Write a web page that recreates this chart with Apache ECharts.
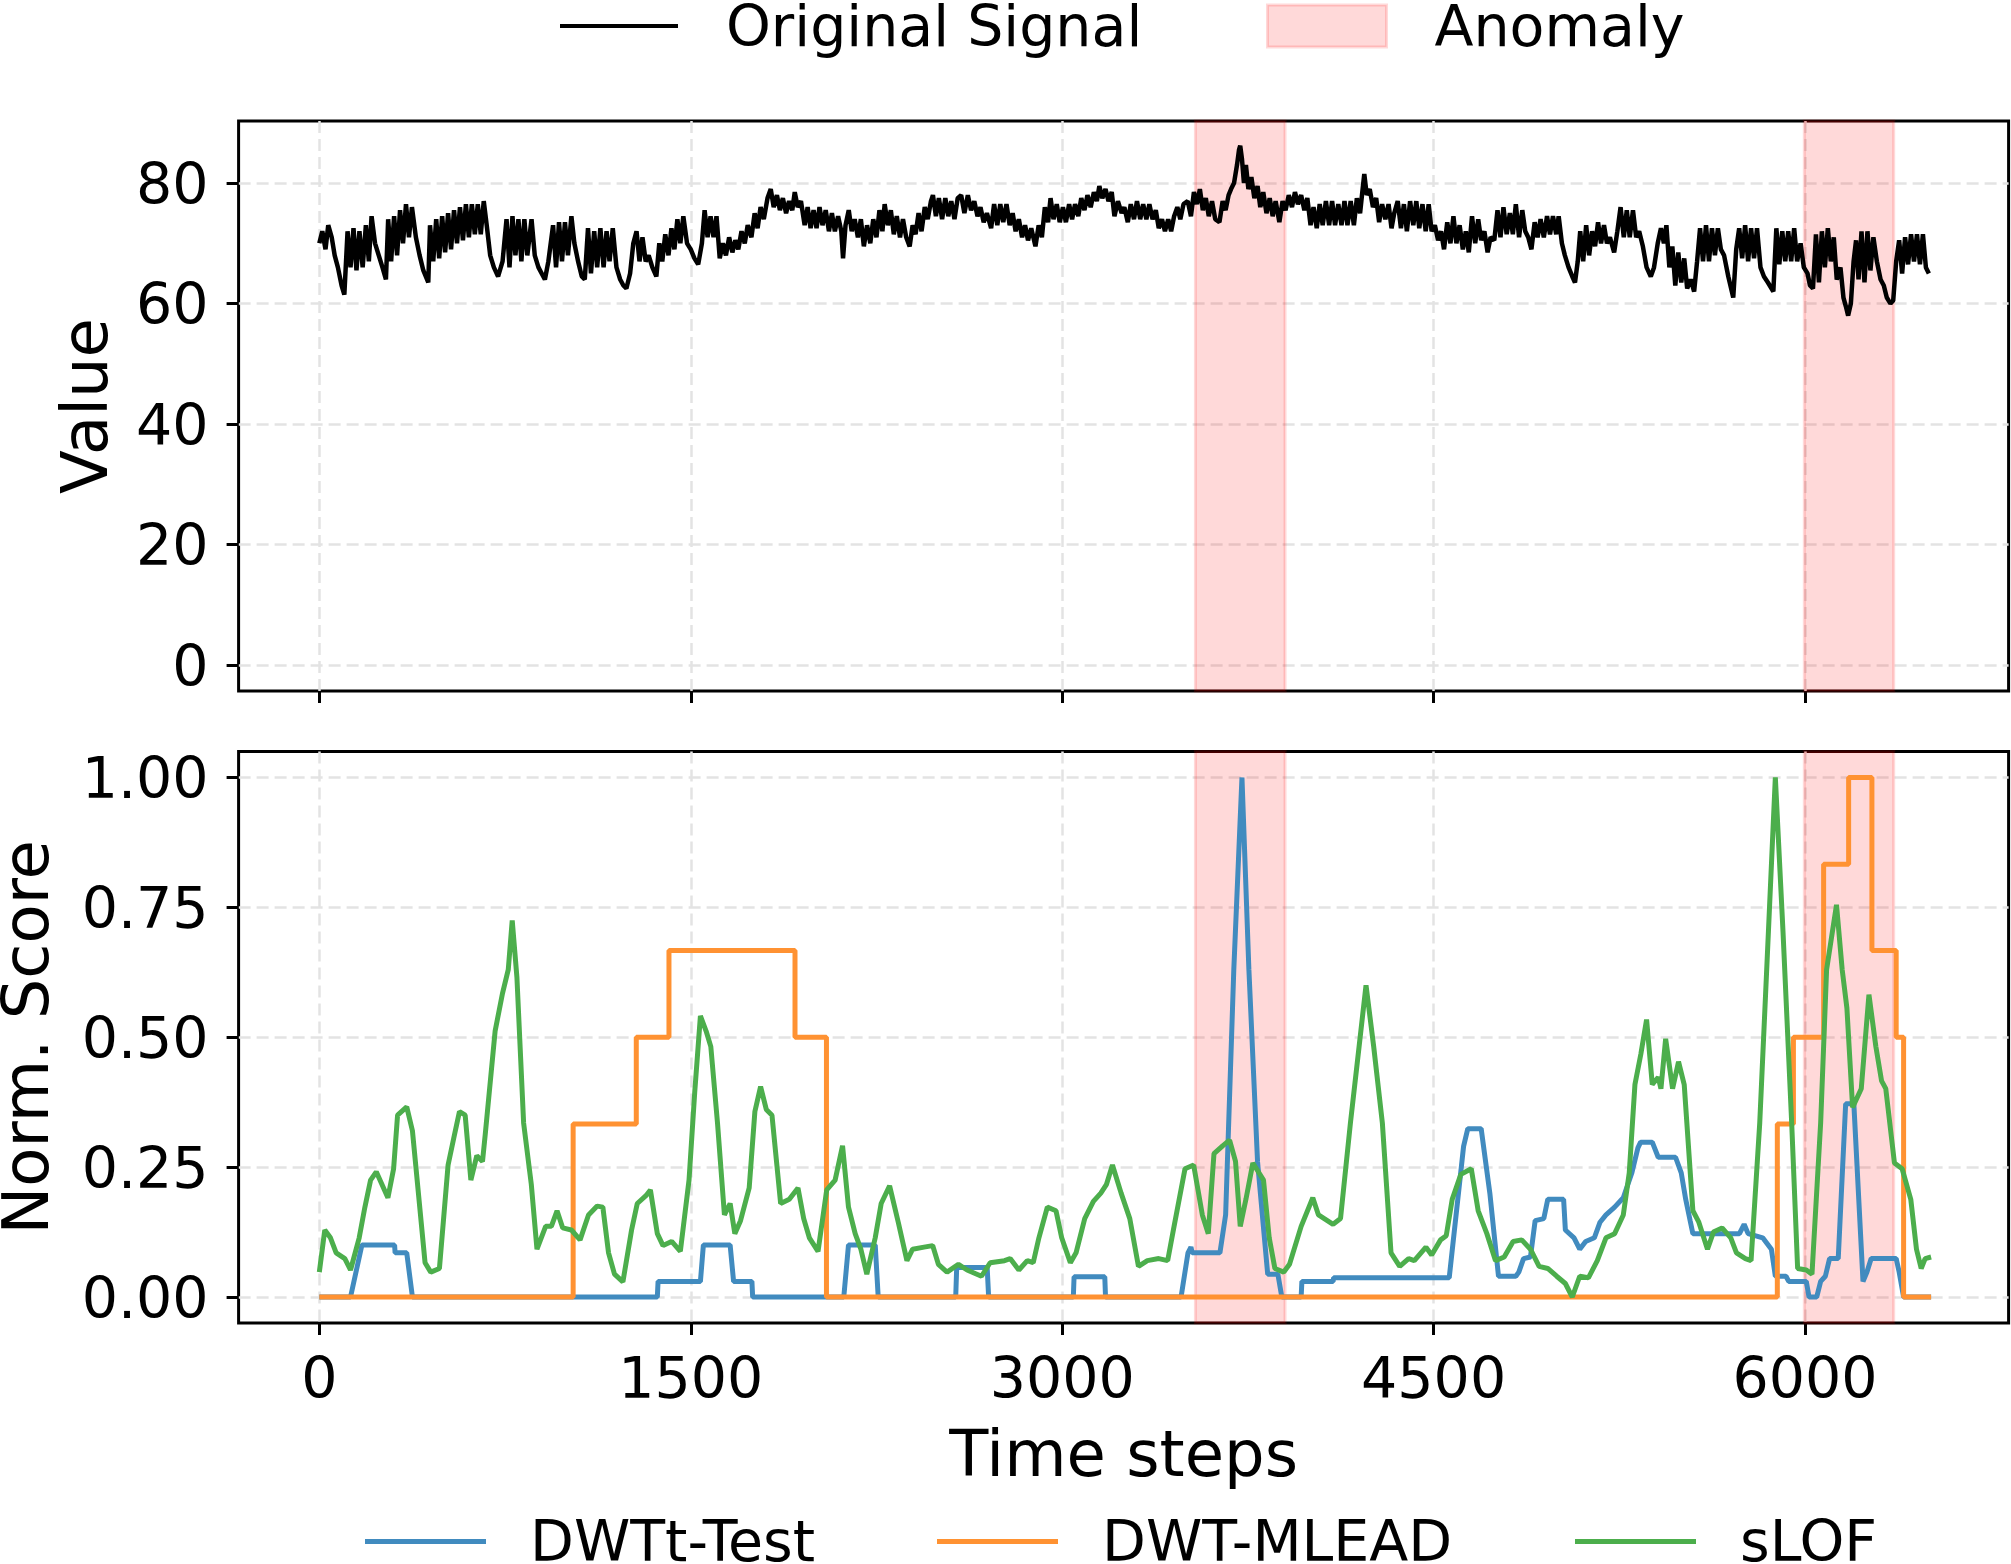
<!DOCTYPE html>
<html>
<head>
<meta charset="utf-8">
<script src="https://cdn.jsdelivr.net/npm/echarts@6/dist/echarts.min.js"></script>
<style>
html, body { margin: 0; padding: 0; background: #fff; }
#chart { width: 2011px; height: 1564px; }
</style>
</head>
<body>
<div id="chart"></div>
<script>
// tick values
const timeTicks = [0, 1500, 3000, 4500, 6000];
const valueTicks = [0, 20, 40, 60, 80];
const scoreTicks = [0, 0.25, 0.5, 0.75, 1];

// anomaly windows [start, end]
const anomalyRanges = [[3538, 3900], [5997, 6358]];

// original signal, [time, value]
const signal = [
  [0,70],[12,72],[25,69],[36,73],[50,71],[62,68],[75,66],[90,63],[101,61.5],[114,72],[126,66],[138,72.5],[150,65.5],[162,72],[175,66],[188,73],[200,67],[211,74.5],[225,70],[240,68],[255,66],[269,64],[278,74],[290,67],[302,74.5],[314,68],[326,75.5],[338,70],[350,76.5],[362,71],[374,76],[390,71],[405,68],[420,65.5],[440,63.5],[447,73],[460,67],[472,74],[484,67.5],[496,74.5],[508,68.5],[520,75],[532,69],[544,75.5],[556,70],[568,76],[580,70.5],[592,76.5],[604,71],[616,76.5],[628,71.5],[640,76.5],[652,71.5],[664,77],[676,73],[690,68],[705,66],[722,64.5],[740,67],[756,74],[768,66],[780,74.5],[792,68],[804,74],[816,67],[828,74],[840,68],[857,74],[870,68],[885,66],[898,65],[911,64],[925,67],[944,73],[956,66],[968,73.5],[980,67],[992,73.5],[1004,68],[1018,74.5],[1030,70],[1045,67],[1060,64.5],[1072,64],
  [1085,72.5],[1097,65],[1110,72],[1122,66],[1135,72.5],[1148,66],[1160,72],[1172,67],[1185,72.5],[1200,66],[1215,64],[1228,63],[1240,62.5],[1255,65],[1268,70],[1281,72],[1293,67],[1305,71],[1318,67],[1330,68],[1345,66],[1361,64.5],[1373,70],[1385,67],[1397,71.5],[1410,68],[1422,72.5],[1434,69],[1446,74],[1458,70],[1470,74.5],[1485,70],[1500,69],[1515,67.5],[1530,66.5],[1545,70],[1556,75.5],[1568,71],[1580,74.5],[1592,71],[1604,74.5],[1617,67.5],[1630,70],[1642,68],[1655,71],[1668,68.5],[1680,70.5],[1692,69],[1705,72],[1718,70],[1730,73],[1745,71],[1758,75],[1770,72.5],[1782,76],[1795,74],[1810,77.5],[1823,79],[1835,76],[1848,78],[1860,75.5],[1872,77.5],[1885,75],[1897,77],[1910,75.5],[1920,78.5],[1932,76],[1945,77],[1960,73],[1972,76],[1984,72.5],[1996,75.5],[2008,72.5],[2020,76],[2032,73],[2045,75.5],[2058,72],[2070,75],[2082,72],[2095,74.5],[2108,72],[2115,67.5],[2125,73],[2138,75.5],[2150,72],[2162,74],
  [2175,71],[2187,74],[2199,69.5],[2212,73],[2225,70],[2237,74],[2250,71],[2262,75.5],[2274,72],[2283,76.5],[2296,73],[2308,75.5],[2320,71.5],[2332,74.5],[2345,71],[2357,74],[2370,71],[2384,69.5],[2396,73],[2408,71.5],[2420,75],[2432,72],[2445,76],[2457,74],[2470,77],[2478,78],[2490,74.5],[2502,77.5],[2515,74],[2528,77.5],[2540,74.5],[2552,77],[2565,74],[2578,77.5],[2592,78],[2605,75],[2619,78],[2632,75.5],[2645,77],[2658,74.5],[2670,76],[2683,73.5],[2696,75],[2713,72.5],[2725,76.5],[2738,73],[2750,76.5],[2762,73.5],[2775,76.5],[2788,73],[2800,75],[2812,72],[2825,74],[2838,71],[2850,73],[2862,70.5],[2875,72.5],[2892,69.5],[2905,73],[2918,71],[2930,76],[2943,73.5],[2953,77.5],[2965,74],[2978,76.5],[2990,73.5],[3003,76],[3015,73.5],[3028,76.5],[3040,74],[3052,76.5],[3065,74.5],[3077,77.5],[3090,75.5],[3102,78],[3115,76],[3128,78.5],[3140,77],[3150,79.5],[3162,77.5],[3175,79],[3187,77],[3200,78.5],[3211,74.5],[3225,77],[3240,75],[3251,76],
  [3265,73.5],[3277,76.5],[3290,74],[3302,77],[3315,74],[3327,76.5],[3340,74],[3352,76.5],[3365,74],[3378,75.5],[3390,72.5],[3403,74],[3415,72],[3428,74],[3440,72],[3452,74.5],[3465,76],[3477,74],[3490,76.5],[3507,77],[3520,74.5],[3532,78.5],[3544,76.5],[3556,79],[3568,75.5],[3580,77.5],[3592,74.5],[3605,77],[3618,74],[3635,73.5],[3648,77],[3660,75.5],[3672,78],[3682,79],[3694,80],[3706,83],[3714,85.5],[3719,86.2],[3726,84],[3734,80],[3742,83],[3752,79],[3764,81],[3776,77.5],[3789,79.5],[3800,76],[3812,78.5],[3825,75],[3838,77.5],[3850,74.5],[3862,77],[3877,73.5],[3890,77],[3902,75.5],[3915,78],[3928,76],[3940,78.5],[3952,76.5],[3965,78],[3978,75.5],[3990,77.5],[4003,73],[4015,76],[4028,72.5],[4040,76.5],[4052,73],[4065,77],[4078,73],[4090,77],[4102,73],[4115,76.5],[4128,73],[4140,77],[4152,73],[4165,77],[4178,73],[4190,77.5],[4203,75],[4212,78.5],[4220,81.5],[4230,78],[4242,79],[4255,76],[4268,77.5],[4280,73.5],[4292,76.5],[4305,74],[4318,76.5],[4330,72.5],[4341,75],
  [4355,77],[4368,72.5],[4380,76.5],[4392,72],[4405,77],[4418,73],[4430,77],[4442,72.5],[4455,76.5],[4468,72],[4480,76.5],[4492,72],[4505,73],[4518,70.5],[4530,72],[4542,69],[4555,73.5],[4568,70],[4580,74.5],[4592,70],[4605,73],[4618,69],[4630,72],[4642,68.5],[4655,74.5],[4668,70],[4680,74],[4692,70.5],[4705,72],[4718,68.5],[4730,71],[4745,70.5],[4758,75.5],[4770,71],[4782,76],[4795,71.5],[4808,75],[4820,71.5],[4832,76.5],[4845,71],[4858,75.5],[4870,72],[4882,71],[4895,69],[4908,73.5],[4920,71],[4932,74],[4945,71],[4958,74.5],[4970,71.5],[4982,74.5],[4995,71.5],[5005,74.5],[5018,70],[5030,68],[5045,66],[5060,64.5],[5071,63.5],[5082,67],[5092,72],[5104,67],[5116,73],[5128,68],[5140,72],[5152,69.5],[5164,73.5],[5176,70],[5188,73],[5200,70],[5212,71],[5229,68.5],[5242,72],[5255,76],[5268,71],[5280,75.5],[5292,71],[5305,75.5],[5318,71],[5330,72],[5345,69.5],[5360,66],[5377,64.5],[5390,66],[5405,70],[5418,72.5],[5430,70],
  [5440,73],[5452,66],[5464,69.5],[5476,63],[5488,68.5],[5500,63.5],[5512,67.5],[5524,62.5],[5538,64],[5552,62],[5564,67],[5576,72.5],[5588,67],[5600,73],[5612,67],[5624,72.5],[5636,68],[5648,72.5],[5660,69],[5673,68],[5690,64.5],[5710,61],[5722,69],[5734,72.5],[5746,67.5],[5758,73],[5770,67],[5782,72.5],[5794,67.5],[5806,72.5],[5820,66],[5834,64.5],[5850,63.5],[5872,62],[5884,72.5],[5896,66.5],[5908,72],[5920,67],[5932,72],[5944,67],[5956,72.5],[5968,67],[5982,70],[5995,66],[6010,65],[6020,63],[6032,62.5],[6044,71.5],[6056,63.5],[6068,72],[6080,66],[6092,72.5],[6104,67],[6116,71],[6128,64],[6143,66],[6155,61],[6165,59.5],[6174,58],[6185,60],[6196,67],[6206,70.5],[6216,64],[6228,72],[6240,63.5],[6252,72],[6264,65.5],[6276,71],[6290,67],[6305,64],[6318,63],[6330,61],[6345,60],[6356,60.5],[6368,67],[6380,70.5],[6392,65],[6404,71],[6416,66.5],[6428,71.5],[6440,67],[6452,71.5],[6464,66.5],[6476,71.5],[6488,66],[6500,65]
];

// normalized scores, [time, score]
const dwtTest = [
  [0,0],[126,0],[172,0.1],[304,0.1],[306,0.085],[353,0.085],[376,0],
  [1365,0],[1368,0.03],[1539,0.03],[1551,0.1],[1659,0.1],[1673,0.03],[1747,0.03],[1750,0],
  [2118,0],[2137,0.1],[2245,0.1],[2257,0],
  [2570,0],[2574,0.057],[2697,0.057],[2703,0],
  [3045,0],[3048,0.039],[3172,0.039],[3175,0],
  [3480,0],[3508,0.085],[3520,0.096],[3525,0.085],[3637,0.085],[3660,0.158],[3693,0.63],[3726,1.0],[3754,0.63],[3789,0.26],[3830,0.044],[3871,0.044],[3887,0],
  [3965,0],[3968,0.03],[4094,0.03],[4096,0.037],[4563,0.037],[4621,0.29],[4638,0.324],[4692,0.324],[4727,0.2],[4762,0.04],[4832,0.04],[4844,0.048],[4863,0.074],[4891,0.077],[4910,0.147],[4945,0.151],[4961,0.188],[5025,0.188],[5032,0.129],[5067,0.114],[5090,0.092],[5114,0.107],[5149,0.114],[5172,0.144],[5196,0.158],[5231,0.173],[5266,0.191],[5301,0.24],[5325,0.287],[5336,0.298],[5383,0.298],[5407,0.269],[5477,0.269],[5500,0.239],[5518,0.188],[5536,0.147],[5547,0.122],[5735,0.122],[5754,0.14],[5770,0.122],[5829,0.114],[5864,0.092],[5880,0.04],[5923,0.04],[5934,0.03],[6005,0.03],[6016,0],[6047,0],[6063,0.03],[6082,0.04],[6099,0.074],[6134,0.074],[6164,0.372],[6197,0.372],[6234,0.03],[6250,0.048],[6267,0.074],[6368,0.074],[6380,0.048],[6398,0],[6509,0]
];
const dwtMlead = [
  [0,0],[1025,0],[1025,0.333],[1280,0.333],[1280,0.5],[1412,0.5],[1412,0.667],[1921,0.667],[1921,0.5],[2048,0.5],[2048,0],
  [5888,0],[5888,0.333],[5953,0.333],[5953,0.5],[6075,0.5],[6075,0.833],[6176,0.833],[6176,1],[6270,1],[6270,0.667],[6368,0.667],[6368,0.5],[6398,0.5],[6398,0],[6509,0]
];
const slof = [
  [0,0.048],[22,0.129],[45,0.114],[68,0.085],[103,0.074],[126,0.052],[161,0.114],[184,0.173],[207,0.225],[230,0.241],[277,0.191],[300,0.247],[316,0.35],[353,0.366],[376,0.32],[427,0.066],[450,0.048],[485,0.055],[520,0.254],[543,0.306],[566,0.357],[589,0.35],[612,0.225],[636,0.272],[659,0.261],[670,0.313],[710,0.512],[740,0.585],[763,0.63],[779,0.725],[798,0.615],[825,0.335],[856,0.217],[879,0.092],[914,0.136],[937,0.136],[960,0.166],[983,0.133],[1018,0.129],[1053,0.11],[1087,0.158],[1122,0.175],[1145,0.173],[1168,0.085],[1192,0.044],[1226,0.029],[1261,0.129],[1284,0.18],[1319,0.195],[1337,0.206],[1365,0.122],[1388,0.099],[1423,0.107],[1458,0.088],[1493,0.225],[1516,0.394],[1539,0.541],[1562,0.512],[1581,0.482],[1608,0.335],[1636,0.158],[1659,0.18],[1678,0.122],[1701,0.147],[1736,0.21],[1759,0.357],[1782,0.405],[1805,0.361],[1828,0.35],[1863,0.18],[1898,0.188],[1933,0.21],[1956,0.151],[1979,0.114],[2014,0.088],[2049,0.206],[2083,0.225],[2113,0.291],[2137,0.173],[2164,0.122],[2187,0.092],[2211,0.044],[2245,0.114],[2269,0.18],[2303,0.214],[2338,0.144],[2373,0.07],[2396,0.092],[2442,0.096],[2477,0.099],[2500,0.063],[2535,0.048],[2581,0.063],[2616,0.052],[2674,0.04],[2709,0.066],[2767,0.07],[2790,0.074],[2825,0.052],[2859,0.07],[2883,0.066],[2906,0.114],[2940,0.173],[2975,0.166],[2998,0.114],[3033,0.066],[3056,0.085],[3091,0.151],[3126,0.184],
  [3156,0.2],[3179,0.217],[3203,0.254],[3238,0.2],[3273,0.151],[3308,0.059],[3344,0.07],[3390,0.074],[3426,0.07],[3449,0.129],[3496,0.247],[3531,0.254],[3566,0.158],[3590,0.122],[3613,0.276],[3648,0.291],[3676,0.302],[3700,0.261],[3719,0.136],[3742,0.188],[3770,0.258],[3813,0.225],[3836,0.114],[3859,0.055],[3895,0.048],[3918,0.063],[3965,0.136],[4012,0.191],[4035,0.158],[4094,0.14],[4124,0.151],[4164,0.335],[4199,0.482],[4227,0.6],[4258,0.482],[4293,0.335],[4328,0.085],[4363,0.059],[4399,0.074],[4422,0.07],[4469,0.096],[4492,0.081],[4528,0.11],[4551,0.118],[4575,0.188],[4610,0.236],[4652,0.247],[4680,0.166],[4715,0.122],[4750,0.07],[4785,0.077],[4821,0.107],[4856,0.11],[4891,0.092],[4926,0.059],[4961,0.055],[4997,0.04],[5032,0.026],[5060,0],[5090,0.04],[5125,0.037],[5161,0.07],[5196,0.114],[5231,0.122],[5266,0.158],[5290,0.239],[5313,0.409],[5337,0.468],[5360,0.534],[5383,0.409],[5407,0.423],[5418,0.401],[5437,0.497],[5465,0.401],[5489,0.453],[5512,0.409],[5547,0.166],[5571,0.144],[5606,0.092],[5630,0.125],[5665,0.133],[5700,0.114],[5723,0.085],[5759,0.074],[5782,0.07],[5817,0.335],[5852,0.703],[5880,1.0],[5911,0.703],[5946,0.335],[5970,0.055],[6005,0.052],[6028,0.044],[6063,0.335],[6087,0.63],[6127,0.755],[6150,0.63],[6169,0.556],[6192,0.365],[6227,0.401],[6258,0.582],[6286,0.482],[6309,0.416],[6326,0.401],[6361,0.258],[6392,0.247],[6427,0.188],[6450,0.092],[6469,0.055],[6485,0.074],[6509,0.077]
];

const font = 'DejaVu Sans';
const gridLine = { type: [12, 6], color: '#e3e3e3', width: 2.5 };
const areaStyle = { color: 'rgba(255,0,0,0.15)', borderColor: 'rgba(255,0,0,0.15)', borderWidth: 3 };
const colors = { signal: '#000', dwtTest: '#418bbf', dwtMlead: '#ff9232', slof: '#4cae4c' };

// an empty first line pushes the visible text a little below the anchor
function lowered(gap) {
    return {
        s: { fontSize: 8, lineHeight: gap },
        t: { fontSize: 57, fontFamily: font, color: '#000' }
    };
}
const lowerText = txt => '{s| }\n{t|' + txt + '}';

function tickCfg(values) {
    return { show: true, length: 12, customValues: values, lineStyle: { color: '#000', width: 3 } };
}

// one legend per entry so each handle sits where the reference puts it
function legendItem(name, left, top, w, h, itemStyle, padLeft) {
    return {
        left: left, top: top, padding: 0,
        itemWidth: w, itemHeight: h,
        selectedMode: false,
        formatter: lowerText,
        textStyle: { fontSize: 57, fontFamily: font, color: '#000', padding: [0, 0, 0, padLeft], rich: lowered(10) },
        data: [{ name: name, icon: 'rect', itemStyle: itemStyle }]
    };
}

const chart = echarts.init(document.getElementById('chart'));

chart.setOption({
    animation: false,
    backgroundColor: '#fff',
    textStyle: { fontFamily: font },
    grid: [
        { left: 238.6, top: 121, width: 1770, height: 570, show: true, borderColor: '#000', borderWidth: 3, outerBoundsMode: 'none' },
        { left: 238.6, top: 751.5, width: 1770, height: 571.5, show: true, borderColor: '#000', borderWidth: 3, outerBoundsMode: 'none' }
    ],
    legend: [
        legendItem('Original Signal', 560, -6.5, 118, 4, { color: colors.signal }, 43),
        legendItem('Anomaly', 1266, -6.5, 119, 42, areaStyle, 43),
        legendItem('DWTt-Test', 365, 1509, 121, 5, { color: colors.dwtTest }, 39),
        legendItem('DWT-MLEAD', 937, 1509, 121, 5, { color: colors.dwtMlead }, 39),
        legendItem('sLOF', 1575, 1509, 121, 5, { color: colors.slof }, 39)
    ],
    xAxis: [
        {
            gridIndex: 0, type: 'value', min: -326, max: 6822,
            axisLine: { show: false, onZero: false },
            axisTick: tickCfg(timeTicks),
            axisLabel: { show: false, customValues: timeTicks },
            splitLine: { show: true, lineStyle: gridLine }
        },
        {
            gridIndex: 1, type: 'value', min: -326, max: 6822,
            axisLine: { show: false, onZero: false },
            axisTick: tickCfg(timeTicks),
            axisLabel: {
                customValues: timeTicks, fontSize: 57, color: '#000', margin: 31.5, fontFamily: font,
                formatter: v => String(v)
            },
            splitLine: { show: true, lineStyle: gridLine },
            name: 'Time steps', nameLocation: 'middle', nameGap: 104.5,
            nameTextStyle: { fontSize: 64, color: '#000', fontFamily: font }
        }
    ],
    yAxis: [
        {
            gridIndex: 0, type: 'value', min: -4.3, max: 90.3,
            axisLine: { show: false, onZero: false },
            axisTick: tickCfg(valueTicks),
            axisLabel: {
                customValues: valueTicks, fontSize: 57, color: '#000', margin: 30, fontFamily: font,
                formatter: v => lowerText(String(v)), rich: lowered(12)
            },
            splitLine: { show: true, lineStyle: gridLine },
            name: 'Value', nameLocation: 'middle', nameGap: 116,
            nameTextStyle: { fontSize: 64, color: '#000', fontFamily: font }
        },
        {
            gridIndex: 1, type: 'value', min: -0.05, max: 1.05,
            axisLine: { show: false, onZero: false },
            axisTick: tickCfg(scoreTicks),
            axisLabel: {
                customValues: scoreTicks, fontSize: 57, color: '#000', margin: 30, fontFamily: font,
                formatter: v => lowerText(v.toFixed(2)), rich: lowered(12)
            },
            splitLine: { show: true, lineStyle: gridLine },
            name: 'Norm. Score', nameLocation: 'middle', nameGap: 175,
            nameTextStyle: { fontSize: 64, color: '#000', fontFamily: font }
        }
    ],
    series: [
        {
            name: 'Anomaly', type: 'line', xAxisIndex: 0, yAxisIndex: 0, data: [],
            markArea: { silent: true, itemStyle: areaStyle, data: anomalyRanges.map(r => [{ xAxis: r[0] }, { xAxis: r[1] }]) }
        },
        {
            name: 'Anomaly', type: 'line', xAxisIndex: 1, yAxisIndex: 1, data: [],
            markArea: { silent: true, itemStyle: areaStyle, data: anomalyRanges.map(r => [{ xAxis: r[0] }, { xAxis: r[1] }]) }
        },
        {
            name: 'Original Signal', type: 'line', xAxisIndex: 0, yAxisIndex: 0,
            data: signal, symbol: 'none', lineStyle: { color: colors.signal, width: 4.5 }, itemStyle: { color: colors.signal }
        },
        {
            name: 'DWTt-Test', type: 'line', xAxisIndex: 1, yAxisIndex: 1,
            data: dwtTest, symbol: 'none', lineStyle: { color: colors.dwtTest, width: 5 }, itemStyle: { color: colors.dwtTest }
        },
        {
            name: 'DWT-MLEAD', type: 'line', xAxisIndex: 1, yAxisIndex: 1,
            data: dwtMlead, symbol: 'none', lineStyle: { color: colors.dwtMlead, width: 5 }, itemStyle: { color: colors.dwtMlead }
        },
        {
            name: 'sLOF', type: 'line', xAxisIndex: 1, yAxisIndex: 1,
            data: slof, symbol: 'none', lineStyle: { color: colors.slof, width: 5 }, itemStyle: { color: colors.slof }
        }
    ]
});
</script>
</body>
</html>
